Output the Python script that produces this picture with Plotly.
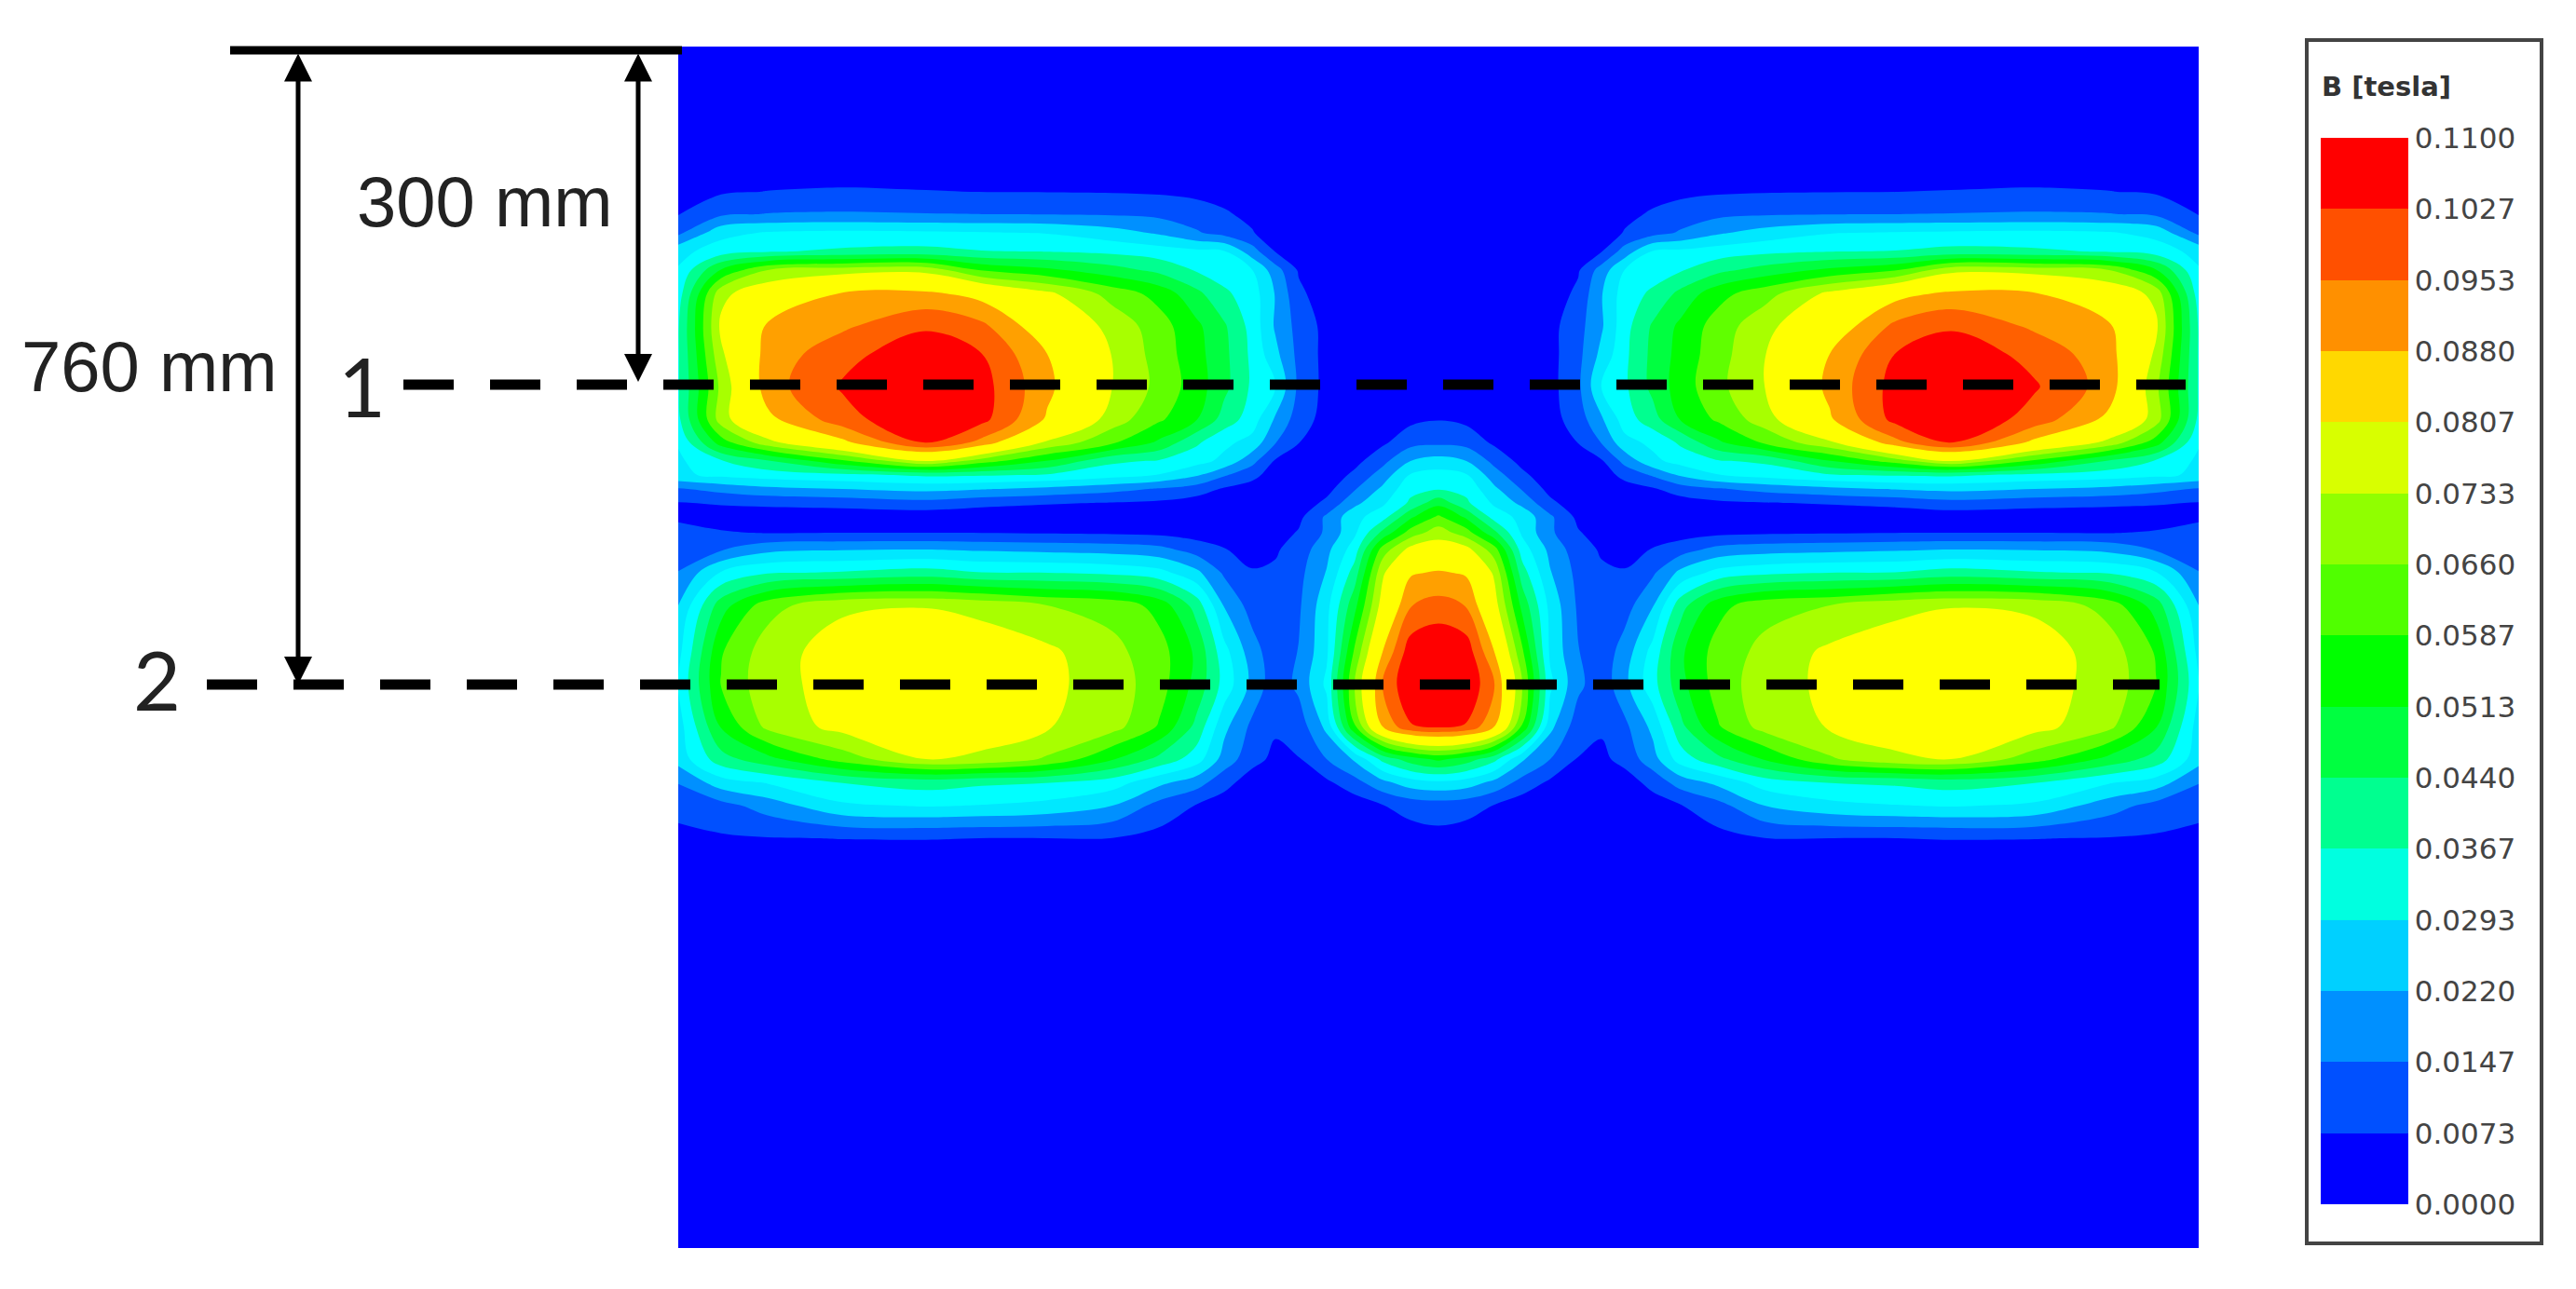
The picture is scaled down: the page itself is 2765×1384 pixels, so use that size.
"""磁通密度云图 B [tesla]，带测量线和标注"""
import numpy as np
import plotly.graph_objects as go

# 色标
level_labels = ['0.0000', '0.0073', '0.0147', '0.0220', '0.0293', '0.0367', '0.0440', '0.0513',
                '0.0587', '0.0660', '0.0733', '0.0807', '0.0880', '0.0953', '0.1027', '0.1100']
legend_colors = ['#0000ff', '#0050ff', '#0090ff', '#00d0ff', '#00ffe0', '#00ff90', '#00ff40', '#00ff00',
                 '#50ff00', '#90ff00', '#d8ff00', '#ffd800', '#ff9000', '#ff5000', '#ff0000']
field_colors = ['#0000ff', '#0050ff', '#0090ff', '#00e8ff', '#00ffff', '#00ff90', '#00ff40', '#00ff00',
                '#60ff00', '#a8ff00', '#ffff00', '#ffff00', '#ffa000', '#ff6000', '#ff0000']

# 网格节点（右半边，左半边按对称展开）
x_half = [1544, 1574, 1604, 1634, 1664, 1694, 1719, 1744, 1774, 1804,
          1844, 1894, 1964, 2034, 2094, 2184, 2264, 2314, 2360]
y_nodes = [50, 170, 206, 230, 250, 270, 290, 315, 350, 380, 415, 450, 475, 495, 510, 525,
           540, 555, 572, 590, 615, 650, 700, 735, 780, 815, 840, 865, 900, 940, 1340]

# B 值，单位 mT，每行对应一个 y 节点
b_half_mt = [
    [0] * 19,
    [0, 0, 0, 0, 0, 0, 0, 0, 0, 1, 1.5, 2, 2, 2, 2.5, 3, 2.5, 2, 1],
    [0, 0, 0, 0, 0, 0, 0, 1.5, 4, 5.5, 6.5, 7, 7.2, 7.3, 7.6, 8, 7.5, 6.5, 4],
    [0, 0, 0, 0, 0, 0, 1, 5, 8.5, 11, 13, 14, 14.5, 14.7, 15, 15.5, 15, 13.5, 7],
    [0, 0, 0, 0, 0, 0, 2, 8, 12, 15.5, 21, 25, 29, 30, 30.5, 31, 30, 27, 13],
    [0, 0, 0, 0, 0, 0, 7, 18, 30, 31, 33, 35, 36.5, 37, 39, 38, 36, 33, 27],
    [0, 0, 0, 0, 2, 6.5, 18, 29.5, 33, 36, 42, 47, 53, 58, 71, 70, 66, 52, 30],
    [0, 0, 0, 0, 3, 9, 21.5, 33, 38, 46, 56, 63, 75, 85, 89.5, 88.5, 80, 71, 33],
    [0, 0, 0, 0, 5, 12, 21, 34, 45, 53, 62, 71, 82, 97, 101.5, 94, 89, 75, 36],
    [0, 0, 0, 0, 5, 12.5, 24, 35, 46, 54, 63, 73, 88, 102.7, 108, 100, 91, 72, 36],
    [0.5, 0.5, 0.5, 1, 5, 13, 29.5, 35.4, 46, 55, 64, 73.3, 90, 105.5, 110.5, 103.5, 92, 68, 36],
    [7, 5.5, 1, 0.5, 4.5, 11, 21, 33, 41, 52, 60, 70, 87, 105, 110, 99.5, 86, 70, 35],
    [13, 12, 6, 2, 3, 7.5, 15, 27, 31, 38, 50, 60, 72, 93, 103.5, 86, 71, 55, 30],
    [25, 22, 12.5, 5, 2, 4, 6.5, 17, 27.5, 32, 36, 38, 51, 62, 73.5, 57, 43, 36, 28],
    [32, 30, 18, 9, 2.5, 2, 3, 10, 15.5, 23, 29, 32, 36, 37.5, 38, 35, 33, 31, 28],
    [36, 34.5, 23.5, 14, 5, 2, 2, 3.5, 6.5, 11, 14, 17, 20, 22.5, 24, 22, 20, 17, 14],
    [49, 38, 28, 20, 9, 3, 2, 2, 2.5, 4, 6, 7, 8, 9.5, 12, 10, 9, 8, 7],
    [60, 50, 33.5, 27, 16, 5.5, 2.5, 2, 1.5, 1.5, 1.5, 2, 2, 2.5, 3, 3, 3, 4, 6],
    [70, 62, 46, 28, 16, 8, 4, 3, 2.5, 4, 5.5, 6.3, 6.8, 7.2, 7.3, 7.3, 7, 8, 10],
    [78, 76, 62, 33, 20, 10.5, 6.5, 4.5, 7.8, 11.5, 17, 19, 20, 21, 22, 21.5, 20, 14, 10.5],
    [89, 87, 72, 40, 22.5, 12.5, 8.5, 8, 13.5, 24, 32, 35, 36.7, 37, 40, 37.5, 36, 30, 15],
    [98, 95, 77, 49, 27, 13.5, 9.7, 11.5, 21.5, 41, 56, 63.5, 66, 71, 73, 72, 63, 48, 22],
    [110, 107, 88, 60, 28, 15, 10, 18, 32, 50, 62, 68, 75, 78, 78.5, 77, 70, 58, 27],
    [112, 109, 96, 66, 31, 16.5, 10, 20, 34, 49, 62, 70, 75, 78, 78.5, 76, 71, 59, 30],
    [104, 102, 88, 58, 24, 10.5, 8.5, 13, 24, 42, 58, 69, 74, 77, 78, 76, 68, 52, 26],
    [53, 48, 39, 23, 14.7, 7, 5.5, 10, 19, 33, 42, 52, 65, 72, 73.5, 62, 49, 41, 25],
    [28, 26, 20, 12, 6, 2, 1.5, 3.5, 10, 18, 24, 33, 37, 38, 40, 37, 30, 26, 15],
    [11, 10, 7, 3, 1.5, 0.5, 0.5, 1, 3.5, 7, 12, 22, 27, 29, 30, 28, 18, 12, 10],
    [5, 4, 2, 0.5, 0, 0, 0, 0, 1, 2, 5, 7.2, 7.3, 7.3, 7.6, 7.5, 7, 6.5, 5],
    [0.5, 0.5, 0, 0, 0, 0, 0, 0, 0, 0.5, 1, 1.5, 1.5, 1.5, 1.5, 1.5, 1.5, 1.5, 1],
    [0] * 19,
]

b_half = np.array(b_half_mt) / 1000.0
b_full = np.hstack([b_half[:, :0:-1], b_half])
x_full = [3088 - x for x in x_half[:0:-1]] + x_half

n_bands = len(field_colors)
band = 0.11 / n_bands


def stepped_scale(colors):
    """分段色标"""
    scale = []
    for i, c in enumerate(colors):
        scale.append([i / len(colors), c])
        scale.append([(i + 1) / len(colors), c])
    return scale


fig = go.Figure()

# 云图
fig.add_trace(go.Contour(
    x=x_full, y=y_nodes, z=b_full,
    autocontour=False,
    contours=dict(start=band, end=band * (n_bands - 1), size=band, coloring='fill', showlines=False),
    colorscale=stepped_scale(field_colors), zmin=0, zmax=0.11,
    line=dict(width=0, smoothing=1.0),
    showscale=False,
))

# 色标图例
fig.add_trace(go.Heatmap(
    x=[-60, -50], y=[-60, -50], z=[[0, 0.11], [0, 0.11]],
    zmin=0, zmax=0.11, colorscale=stepped_scale(legend_colors),
    colorbar=dict(
        x=2491 / 2765, xanchor='left', xpad=0,
        y=1 - 148 / 1384, yanchor='top', ypad=0,
        thickness=94, thicknessmode='pixels',
        len=1145, lenmode='pixels',
        outlinewidth=0, ticks='', ticklen=12,
        tickmode='array', tickvals=[band * i for i in range(16)], ticktext=level_labels,
        tickfont=dict(family='DejaVu Sans', size=31, color='#444444'),
    ),
))

# 图例外框和标题
fig.add_shape(type='rect', x0=2476, x1=2728, y0=43, y1=1335, line=dict(color='#444444', width=4))
fig.add_annotation(x=2490, y=93, text='<b>B [tesla]</b>', showarrow=False, xanchor='left',
                   font=dict(family='DejaVu Sans', size=29, color='#333333'))

# 顶部基准线和测量线
fig.add_shape(type='line', x0=247, x1=732, y0=54, y1=54, line=dict(color='black', width=9))
fig.add_shape(type='line', x0=433, x1=2346, y0=413, y1=413, line=dict(color='black', width=11, dash='54px,39px'))
fig.add_shape(type='line', x0=222, x1=2318, y0=735, y1=735, line=dict(color='black', width=11, dash='54px,39px'))

# 尺寸箭头
for arrow_x, arrow_end in [(320, 735), (685, 410)]:
    fig.add_annotation(x=arrow_x, y=arrow_end, ax=arrow_x, ay=56, xref='x', yref='y', axref='x', ayref='y',
                       text='', showarrow=True, arrowhead=2, arrowside='end+start',
                       arrowsize=1.2, arrowwidth=5, arrowcolor='black')

# 文字标注
for label, tx, ty, family, size in [('300 mm', 520, 216, 'Liberation Sans', 76),
                                    ('760 mm', 160, 393, 'Liberation Sans', 76),
                                    ('1', 388, 414, 'Lato', 88),
                                    ('2', 168, 729, 'Lato', 88)]:
    fig.add_annotation(x=tx, y=ty, text=label, showarrow=False,
                       font=dict(family=family, size=size, color='#222222'))

fig.update_layout(
    width=2765, height=1384,
    margin=dict(l=0, r=0, t=0, b=0),
    plot_bgcolor='white', paper_bgcolor='white',
    showlegend=False,
)
fig.update_xaxes(range=[0, 2765], visible=False)
fig.update_yaxes(range=[1384, 0], visible=False)

fig.write_html("out.html", config=dict(displayModeBar=False),
               post_script="document.body.style.margin='0';")
